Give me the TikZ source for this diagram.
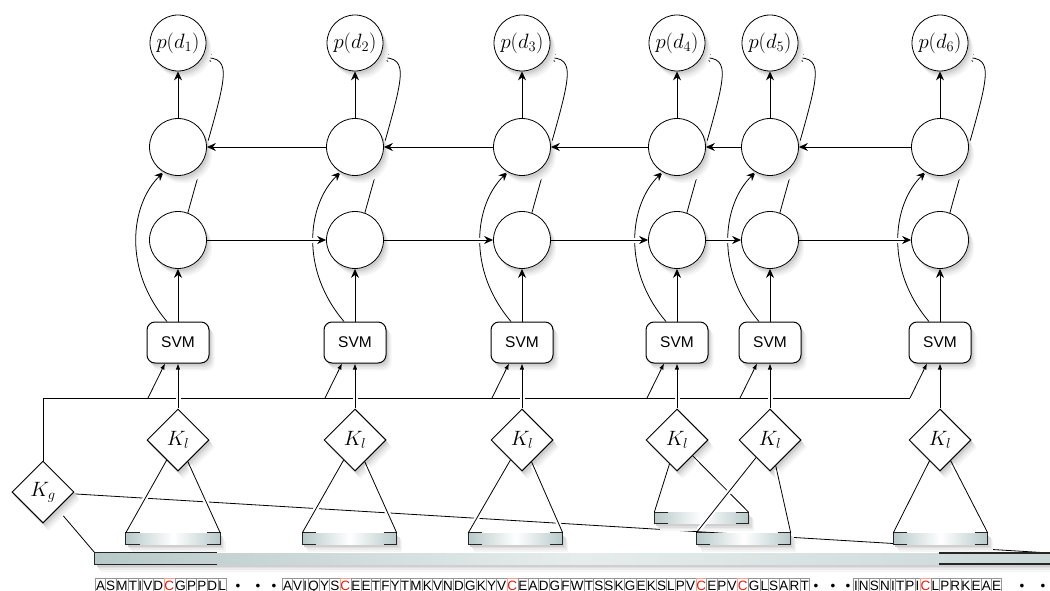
\documentclass[tikz,border=0pt]{standalone}
\usepackage{fontspec}
\newfontfamily\helv{Liberation Sans}
\usetikzlibrary{shapes.geometric,arrows.meta}
\pgfdeclarelayer{bg}
\pgfsetlayers{bg,main}
\definecolor{barc}{RGB}{184,201,201}
\definecolor{boxgray}{RGB}{150,150,150}
\definecolor{seqred}{RGB}{232,30,20}
\definecolor{redframe}{RGB}{245,165,145}
\newcommand\seqgray[1]{{\fboxsep=0.4pt\fboxrule=0.4pt\fcolorbox{boxgray}{white}{\rule[-3pt]{0pt}{14.5pt}#1}}\kern-0.4pt}
\newcommand\seqredbox[1]{{\fboxsep=0.4pt\fboxrule=0.4pt\fcolorbox{redframe}{white}{\rule[-3pt]{0pt}{14.5pt}\textcolor{seqred}{#1}}}\kern-0.4pt}
\def\seqpick#1{\if#1C\seqredbox{#1}\else\seqgray{#1}\fi}
\def\seqloop#1{\ifx#1\relax\else\seqpick{#1}\expandafter\seqloop\fi}
\begin{document}
\begin{tikzpicture}[x=1pt,y=-1pt,
  ln/.style={line width=0.8pt},
  arr/.style={line width=0.8pt,-{Stealth[length=9pt,width=8pt,inset=3pt]}},
  sarr/.style={line width=0.8pt,-{Latex[length=6pt,width=4.5pt]}},
  halo/.style={preaction={draw=white,line width=5pt,arrows=-,shorten >=4pt,shorten <=4pt}},
  shd/.style={fill=black!#1},
  outn/.style={circle,draw,line width=0.8pt,minimum size=56pt,inner sep=0pt,fill=white,font=\fontsize{20}{22}\selectfont},
  hid/.style={circle,draw,line width=0.8pt,minimum size=57pt,inner sep=0pt,fill=white},
  svm/.style={rectangle,rounded corners=8pt,draw,line width=1pt,minimum width=62pt,minimum height=41pt,inner sep=0pt,fill=white,font=\helv\fontsize{15.5}{17}\selectfont},
  kern/.style={diamond,draw,line width=1pt,minimum width=62pt,minimum height=62pt,inner sep=0pt,fill=white,font=\fontsize{20}{22}\selectfont},
  barn/.style={rectangle,minimum width=94pt,minimum height=11pt,inner sep=0pt,left color=barc,right color=barc,middle color=white},
  lbarn/.style={rectangle,minimum width=965pt,minimum height=11pt,inner sep=0pt,left color=barc,right color=barc!75,middle color=barc!35},
  brk/.style={line width=1.3pt,black!85},
  seqn/.style={anchor=base west,inner sep=0pt,font=\helv\fontsize{13.5}{16}\selectfont},
  dotn/.style={anchor=base,inner sep=0pt,font=\helv\fontsize{13.5}{16}\selectfont}]
\useasboundingbox (0,0) rectangle (1050,591);
\begin{pgfonlayer}{bg}
\fill[white] (0,0) rectangle (1050,591);
\end{pgfonlayer}

% soft shadows: solid grey layers, far to near, drawn before the nodes
\foreach \sx/\sy/\sc in {5.5/7.5/4, 4.2/5.8/8, 3.0/4.2/13, 1.8/2.6/19} {
  \foreach \x in {178,355,522,677,770,940} {
    \fill[shd=\sc] (\x+\sx,43+\sy) circle[radius=28pt];
    \fill[shd=\sc] (\x+\sx,147+\sy) circle[radius=28.5pt];
    \fill[shd=\sc] (\x+\sx,240+\sy) circle[radius=28.5pt];
    \fill[shd=\sc,rounded corners=8pt] (\x-31+\sx,322+\sy) rectangle (\x+31+\sx,363+\sy);
    \fill[shd=\sc] (\x+\sx,409+\sy) -- (\x+31+\sx,440+\sy) -- (\x+\sx,471+\sy) -- (\x-31+\sx,440+\sy) -- cycle;
  }
  \fill[shd=\sc] (43+\sx,461+\sy) -- (74+\sx,492+\sy) -- (43+\sx,523+\sy) -- (12+\sx,492+\sy) -- cycle;
  \foreach \bx/\by in {173/538.5,349.5/538.5,515.5/538.5,701.5/518,743.5/538.5,940.5/538.5} {
    \fill[shd=\sc] (\bx-47+\sx,\by-5.5+\sy) rectangle (\bx+47+\sx,\by+5.5+\sy);
  }
  \fill[shd=\sc] (95+\sx,553+\sy) rectangle (1060+\sx,564+\sy);
}

% columns
\foreach \x [count=\i] in {178,355,522,677,770,940} {
  \node[outn] (p\i) at (\x,43) {$p(d_{\i})$};
  \node[hid] (u\i) at (\x,147) {};
  \node[hid] (l\i) at (\x,240) {};
  \node[svm] (s\i) at (\x,342.5) {SVM};
  \node[kern] (k\i) at (\x,440) {$K_l$};
}
\node[kern] (kg) at (43,492) {$K_g$};

% bars
\node[barn] (bar1) at (173,538.5) {};
\node[barn] (bar2) at (349.5,538.5) {};
\node[barn] (bar3) at (515.5,538.5) {};
\node[barn] (bar4) at (701.5,518) {};
\node[barn] (bar5) at (743.5,538.5) {};
\node[barn] (bar6) at (940.5,538.5) {};
\node[lbarn] (lbar) at (577.5,558.5) {};
\coordinate (kgend) at (1050,553);
\coordinate (b6) at (910,398);

\foreach \b in {1,...,6} {
  \draw[brk] ([xshift=14pt]bar\b.north west) -- (bar\b.north west) -- (bar\b.south west) -- ([xshift=14pt]bar\b.south west);
  \draw[brk] ([xshift=-13pt]bar\b.north east) -- (bar\b.north east) -- (bar\b.south east) -- ([xshift=-13pt]bar\b.south east);
}
\draw[brk] ([xshift=122pt]lbar.north west) -- (lbar.north west) -- (lbar.south west) -- ([xshift=122pt]lbar.south west);
\draw[brk] (939,553) -- (1062,553);
\draw[brk] (939,564) -- (1062,564);

\begin{pgfonlayer}{bg}
  \draw[ln] (kg) -- (lbar.north west);
  \draw[ln] (kg) -- (kgend);
  \draw[ln] (kg.north) |- (b6);
\end{pgfonlayer}

% kernel to bars
\foreach \i in {1,...,6} {
  \draw[ln,halo] (k\i) -- (bar\i.north west);
  \draw[ln,halo] (k\i) -- (bar\i.north east);
}

% kernel to SVM, RNN verticals and skip curves
\foreach \x [count=\i] in {178,355,522,677,770,940} {
  \draw[sarr,halo] (k\i) -- (s\i);
  \draw[sarr] (\x-30,398) -- ([xshift=-13pt]s\i.south);
  \draw[arr] (s\i) -- (l\i);
  \draw[arr] (u\i) -- (p\i);
  \begin{pgfonlayer}{bg}
    \draw[arr] ([xshift=-11pt]s\i.north) .. controls (\x-55,270) and (\x-48,205) .. (u\i.240);
    \draw[arr] (l\i.70) .. controls (\x+45,85) and (\x+58,60) .. (p\i.-30);
  \end{pgfonlayer}
}
\foreach \i/\j in {1/2,2/3,3/4,4/5,5/6} {
  \draw[arr,halo] (l\i) -- (l\j);
  \draw[arr,halo] (u\j) -- (u\i);
}

% sequence
\node[seqn] (seq1) at (95,590) {\seqloop ASMTIVDCGPPDL\relax};
\node[seqn] (seq2) at (282,590) {\seqloop AVIQYSCEETFYTMKVNDGKYVCEADGFWTSSKGEKSLPVCEPVCGLSART\relax};
\node[seqn] (seq3) at (853,590) {\seqloop INSNITPICLPRKEAE\relax};
\foreach \d/\xx in {1/238,2/258,3/274,4/816,5/833,6/848,7/1022,8/1043} {
  \node[dotn] (dot\d) at (\xx,590) {•};
}
\end{tikzpicture}
\end{document}
